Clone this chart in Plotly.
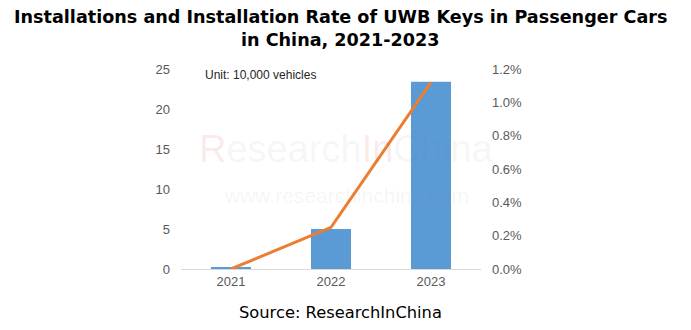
import plotly.graph_objects as go

# Data
years = ["2021", "2022", "2023"]
installations = [0.15, 5.0, 23.4]          # 10,000 vehicles
install_rate = [0.0, 0.25, 1.12]           # percent
left_ticks = [0, 5, 10, 15, 20, 25]
right_ticks = [0.0, 0.2, 0.4, 0.6, 0.8, 1.0, 1.2]
title_lines = ["Installations and Installation Rate of UWB Keys in Passenger Cars",
               "in China, 2021-2023"]

BAR = "#5B9BD5"
LINE = "#ED7D31"
TICK = "#595959"

fig = go.Figure()
fig.add_trace(go.Bar(
    x=years, y=installations, name="Installations",
    marker=dict(color=BAR, line=dict(width=0)), width=0.4, yaxis="y",
))
fig.add_trace(go.Scatter(
    x=years, y=install_rate, name="Installation Rate", mode="lines",
    line=dict(color=LINE, width=3), yaxis="y2",
))

# Faint watermark
fig.add_annotation(
    xref="paper", yref="paper", x=0.55, y=0.60, showarrow=False,
    text=("<span style='color:rgba(215,40,40,0.10)'>R</span>"
          "<span style='color:rgba(120,120,120,0.07)'>esearch</span>"
          "<span style='color:rgba(215,40,40,0.10)'>In</span>"
          "<span style='color:rgba(120,120,120,0.07)'>China</span>"),
    font=dict(family="Liberation Sans, Arial", size=38),
)
fig.add_annotation(
    xref="paper", yref="paper", x=0.55, y=0.30, showarrow=False,
    text="www.researchinchina.com",
    font=dict(family="Liberation Sans, Arial", size=21, color="rgba(120,120,120,0.08)"),
)

fig.add_annotation(
    xref="paper", yref="paper", x=0.073, y=0.97, xanchor="left", yanchor="middle",
    showarrow=False, text="Unit: 10,000 vehicles",
    font=dict(family="Liberation Sans, Arial", size=12, color="#262626"),
)

# Two-line bold title
for line_text, ypos in zip(title_lines, [1.26, 1.145]):
    fig.add_annotation(
        xref="paper", yref="paper", x=0.53, y=ypos, xanchor="center", yanchor="middle",
        showarrow=False, text=f"<b>{line_text}</b>",
        font=dict(family="DejaVu Sans, Verdana", size=17.6, color="#000000"),
    )

fig.update_layout(
    width=691, height=330,
    margin=dict(l=181, r=210, t=69, b=61),
    paper_bgcolor="white", plot_bgcolor="white",
    showlegend=False,
    xaxis=dict(
        type="category", range=[-0.5, 2.5], showgrid=False,
        showline=True, linecolor="#D9D9D9", linewidth=1, ticks="",
        tickfont=dict(family="Liberation Sans, Arial", size=13, color=TICK),
    ),
    yaxis=dict(
        range=[0, 25], tickvals=left_ticks, showgrid=False, zeroline=False,
        showline=False, ticks="", ticklabelstandoff=10,
        tickfont=dict(family="Liberation Sans, Arial", size=13, color=TICK),
    ),
    yaxis2=dict(
        overlaying="y", side="right", range=[0, 1.2], tickvals=right_ticks,
        ticktext=[f"{v:.1f}%" for v in right_ticks],
        showgrid=False, zeroline=False, showline=False, ticks="",
        ticklabelstandoff=10,
        tickfont=dict(family="Liberation Sans, Arial", size=13, color=TICK),
    ),
)

fig.add_annotation(
    xref="paper", yref="paper", x=0.533, y=-0.215, yanchor="middle", showarrow=False,
    text="Source: ResearchInChina",
    font=dict(family="DejaVu Sans, Verdana", size=16.3, color="#000000"),
)

fig.write_html("out.html")
